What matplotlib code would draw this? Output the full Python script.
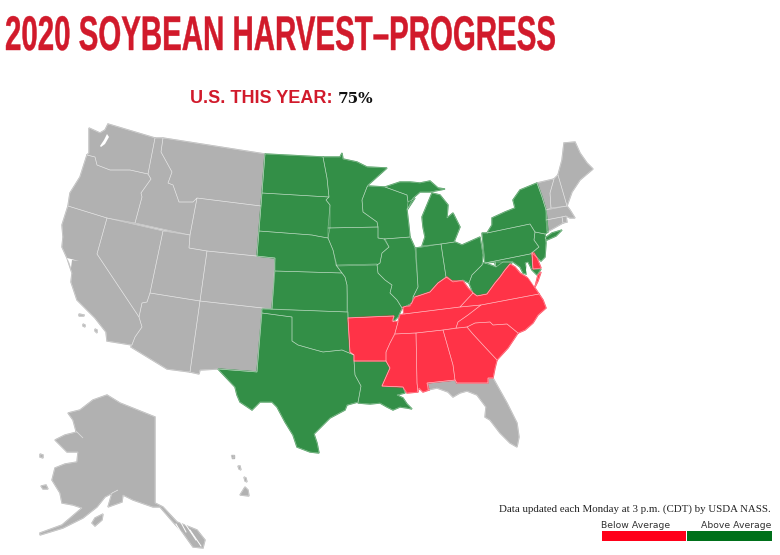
import matplotlib
matplotlib.use("Agg")
from matplotlib import pyplot as plt
from matplotlib.patheffects import AbstractPathEffect
from matplotlib.transforms import Affine2D

# State outlines (pixel grid of the 780x555 map)
WA = [(108,124),(155,138),(148,174),(130,170),(110,170),(97,165),(95,157),(87,155),(89,153),(89,128),(100,133),(105,130)]
OR = [(87,155),(95,157),(97,165),(110,170),(130,170),(148,174),(151,179),(141,193),(142,197),(135,223),(107,218),(68,206),(70,193),(80,177)]
CA = [(68,206),(107,218),(97,254),(139,317),(142,327),(135,337),(132,345),(107,341),(106,332),(95,318),(77,300),(71,282),(72,273),(67,258),(62,247),(63,237),(62,225)]
ID = [(155,138),(163,138),(161,152),(172,172),(168,183),(173,185),(179,202),(193,202),(197,198),(190,235),(135,223),(142,197),(141,193),(151,179),(148,174)]
NV = [(107,218),(163,231),(150,293),(147,302),(142,303),(139,317),(97,254)]
UT = [(163,231),(190,235),(189,248),(207,251),(200,301),(150,293)]
AZ = [(150,293),(200,301),(190,372),(167,369),(131,347),(135,337),(142,327),(139,317),(142,303),(147,302)]
MT = [(163,138),(265,154),(261,206),(197,198),(193,202),(179,202),(173,185),(168,183),(172,172),(161,152)]
WY = [(197,198),(261,206),(257,256),(207,251),(189,248),(190,235)]
CO = [(207,251),(275,258),(272,309),(200,301)]
NM = [(200,301),(262,308),(257,372),(218,369),(200,370),(199,374),(190,372)]
ND = [(265,154),(323,157),(327,178),(329,197),(262,193)]
SD = [(262,193),(329,197),(326,200),(330,205),(330,228),(328,238),(317,236),(312,235),(259,231)]
NE = [(259,231),(312,235),(317,236),(328,238),(333,250),(336,265),(342,273),(275,271),(275,258),(257,256)]
KS = [(275,271),(342,273),(345,277),(347,285),(347,312),(272,309)]
OK = [(262,309),(348,312),(348,318),(350,352),(354,355),(342,350),(323,352),(312,349),(298,345),(292,341),(292,317),(262,313)]
TX = [(262,313),(292,317),(292,341),(298,345),(312,349),(323,352),(342,350),(354,355),(354,361),(355,375),(361,386),(358,402),(347,405),(345,410),(330,418),(320,428),(314,434),(317,443),(319,453),(310,452),(297,447),(293,435),(285,422),(277,407),(272,402),(260,402),(252,410),(240,402),(237,395),(235,387),(218,369),(257,372)]
MN = [(323,157),(340,157),(342,153),(343,159),(357,162),(367,167),(387,168),(368,185),(367,187),(362,200),(363,212),(377,222),(378,227),(328,228),(330,205),(326,200),(329,197),(327,178)]
IA = [(328,228),(378,227),(378,238),(385,239),(389,247),(382,253),(380,263),(377,265),(337,266),(333,250),(328,238)]
MO = [(336,265),(377,264),(378,273),(385,280),(392,285),(390,293),(397,300),(402,308),(398,317),(393,322),(394,316),(348,318),(347,285),(345,277),(342,273)]
AR = [(348,318),(394,316),(392,321),(398,322),(395,333),(390,343),(386,352),(386,361),(354,361),(354,355),(350,352)]
LA = [(354,361),(386,361),(390,368),(382,386),(403,387),(405,393),(397,395),(403,398),(407,404),(412,409),(407,408),(400,407),(393,410),(387,407),(380,403),(370,404),(358,403),(361,386),(355,375)]
WI = [(368,186),(385,187),(407,195),(408,202),(415,198),(407,210),(409,227),(410,237),(384,239),(378,238),(378,227),(377,222),(363,212),(362,200),(367,187)]
IL = [(384,239),(410,237),(415,248),(418,287),(413,297),(412,303),(402,308),(397,300),(390,293),(392,285),(385,280),(378,273),(377,265),(380,263),(382,253),(389,247)]
IN = [(416,248),(441,244),(446,277),(438,283),(430,292),(415,297),(413,297),(418,287)]
MI_LOWER = [(422,217),(432,193),(440,195),(448,205),(447,218),(453,213),(460,227),(454,242),(441,244),(422,246),(425,237),(423,227)]
MI_UPPER = [(385,187),(400,182),(410,182),(420,183),(430,181),(438,188),(445,189),(430,192),(420,192),(413,198),(407,210),(408,202),(407,195)]
OH = [(441,244),(455,242),(462,245),(480,237),(483,255),(482,265),(472,275),(469,283),(463,280),(453,282),(446,277)]
KY = [(403,307),(410,306),(415,297),(430,292),(438,283),(447,277),(452,281),(463,281),(468,288),(473,293),(460,307),(404,314)]
TN = [(404,314),(460,307),(481,305),(468,315),(458,322),(456,328),(443,330),(416,333),(395,334),(395,333),(398,322),(400,315)]
MS = [(395,334),(416,333),(417,383),(418,392),(407,393),(403,387),(382,386),(390,368),(386,361),(386,352),(390,343)]
AL = [(416,333),(443,330),(453,365),(455,380),(427,383),(429,390),(423,392),(419,388),(418,392),(417,383)]
GA = [(443,330),(467,327),(472,333),(483,345),(497,360),(495,368),(493,378),(488,378),(488,383),(457,383),(455,380),(453,365)]
FL = [(427,383),(455,380),(457,383),(488,383),(488,378),(493,378),(498,387),(507,403),(517,423),(519,437),(517,447),(510,443),(500,433),(490,420),(485,417),(486,407),(477,395),(467,391),(460,393),(453,397),(448,392),(437,388),(428,390)]
SC = [(467,327),(475,323),(490,322),(493,325),(507,324),(518,333),(508,348),(497,360),(483,345),(472,333)]
NC = [(481,305),(539,294),(543,300),(546,308),(538,315),(533,323),(525,330),(518,333),(507,324),(493,325),(490,322),(475,323),(467,327),(456,328),(458,322),(468,315)]
VA = [(460,307),(473,293),(477,296),(487,294),(495,283),(500,277),(505,270),(510,264),(515,267),(520,273),(528,278),(533,285),(539,294),(481,305)]
VA_SHORE = [(538,275),(541,272),(538,281),(535,287)]
WV = [(469,283),(472,275),(482,265),(483,263),(485,263),(496,267),(495,262),(503,262),(513,262),(510,264),(505,270),(500,277),(495,283),(487,294),(477,296),(473,293)]
PA = [(482,233),(487,233),(530,224),(535,232),(534,240),(539,247),(530,254),(485,263)]
NY = [(487,233),(492,225),(492,218),(505,212),(515,208),(513,200),(520,190),(537,183),(542,197),(546,210),(548,232),(545,234),(535,232),(530,224)]
LONG_ISLAND = [(545,238),(552,233),(562,230),(556,236),(547,240)]
NJ = [(535,232),(545,234),(546,243),(545,257),(541,261),(532,253),(539,247),(534,240)]
DE = [(532,253),(534,253),(537,258),(541,268),(533,269)]
MD = [(485,263),(530,254),(532,254),(533,269),(541,269),(537,275),(532,270),(528,262),(525,263),(527,270),(529,275),(523,273),(520,267),(513,262),(503,262),(496,267),(495,262)]
VT = [(537,183),(554,179),(550,193),(551,208),(546,210),(542,197)]
NH = [(554,179),(558,175),(567,206),(551,208),(550,193)]
ME = [(558,175),(562,160),(564,143),(575,142),(580,153),(587,163),(593,169),(580,180),(572,192),(567,206)]
MA = [(546,210),(567,206),(570,210),(575,218),(570,218),(566,216),(546,220)]
CT = [(546,220),(562,217),(563,223),(547,232)]
RI = [(562,217),(566,216),(567,222),(563,223)]
AK = [(68,413),(80,410),(93,400),(107,395),(120,403),(140,411),(155,417),(155,503),(163,507),(177,522),(197,530),(205,540),(203,548),(193,547),(183,533),(173,522),(160,507),(153,507),(133,500),(123,495),(122,502),(108,507),(112,493),(118,490),(105,497),(97,507),(83,518),(63,528),(50,532),(40,535),(40,533),(62,525),(82,508),(73,505),(62,503),(60,493),(52,480),(55,468),(65,464),(77,462),(78,452),(67,452),(55,440),(65,435),(77,432),(83,438),(76,431),(73,420)]
KODIAK = [(92,523),(95,518),(103,514),(102,520),(95,526)]
NUNIVAK = [(41,486),(46,485),(48,489),(43,489)]
ST_LAWRENCE = [(40,454),(43,455),(43,458),(40,457)]
HI_BIG = [(240,495),(245,487),(248,490),(249,496)]
HI_MAUI = [(244,477),(246,478),(247,482),(245,481)]
HI_OAHU = [(238,466),(240,466),(241,470),(239,469)]
HI_KAUAI = [(231,455),(234,455),(234,458),(232,458)]
CHANNEL_IS = [(79,314),(84,315),(84,316),(79,316)]
CHANNEL_IS2 = [(83,324),(85,325),(85,327),(83,326)]
CHANNEL_IS3 = [(95,329),(97,330),(97,333),(95,331)]

# water cut out of the land shapes
PUGET = [(100,146),(104,140),(107,134),(109,137),(105,144),(101,147)]
SF_BAY = [(67,258),(79,261),(72,260),(71,268),(69,262)]
CHESAPEAKE = [(527,262),(530,268),(530,276),(534,281),(534,286),(530,280),(527,276),(526,270)]
SE_CUTS = [[(178,517),(186,532)],[(184,522),(196,540)],[(190,530),(201,546)],[(176,524),(184,538)]]

below_average = [AR, MS, AL, GA, SC, NC, TN, KY, VA, VA_SHORE, DE]
above_average = [ND, SD, NE, KS, OK, TX, MN, IA, MO, LA, WI, IL, IN, MI_LOWER, MI_UPPER, OH, WV, PA, NY, LONG_ISLAND, NJ, MD]
no_data = [WA, OR, CA, ID, NV, UT, AZ, MT, WY, CO, NM, FL, VT, NH, ME, MA, CT, RI, AK, KODIAK, NUNIVAK, ST_LAWRENCE,
           HI_BIG, HI_MAUI, HI_OAHU, HI_KAUAI, CHANNEL_IS, CHANNEL_IS2, CHANNEL_IS3]

RED = "#ff3347"
GREEN = "#338f47"
GRAY = "#b1b1b1"
TITLE_RED = "#d11a2b"
TITLE_WIDTH_PX = 551
TITLE_FONTSIZE = 29
TITLE_STRETCH_Y = 35 / TITLE_FONTSIZE

fig = plt.figure(figsize=(7.8, 5.55), dpi=100)
ax = fig.add_axes([0, 0, 1, 1])
ax.set_xlim(0, 780)
ax.set_ylim(555, 0)
ax.axis("off")


class CondenseText(AbstractPathEffect):
    # the heading font is a condensed one, none is installed so reshape the glyphs
    def __init__(self, a_scale_x, a_scale_y, a_origin, a_stroke):
        super().__init__()
        self.scale_x = a_scale_x
        self.scale_y = a_scale_y
        self.origin = a_origin
        self.stroke = a_stroke

    def draw_path(self, renderer, gc, tpath, affine, rgbFace=None):
        x0, y0 = self.origin
        reshape = Affine2D().translate(-x0, -y0).scale(self.scale_x, self.scale_y).translate(x0, y0)
        gc_stroke = renderer.new_gc()
        gc_stroke.copy_properties(gc)
        gc_stroke.set_linewidth(self.stroke)
        gc_stroke.set_foreground(rgbFace)
        renderer.draw_path(gc_stroke, tpath, affine + reshape, rgbFace)
        gc_stroke.restore()


def draw_states(a_states, a_color):
    for state in a_states:
        xs, ys = zip(*state)
        # same colour stroke first so neighbouring outlines leave no gap
        ax.fill(xs, ys, facecolor=a_color, edgecolor=a_color, linewidth=1.0, zorder=2)


def draw_borders(a_states):
    for state in a_states:
        xs, ys = zip(*state)
        ax.fill(xs, ys, facecolor="none", edgecolor="white", alpha=0.45, linewidth=0.45, zorder=3)


draw_states(no_data, GRAY)
draw_states(above_average, GREEN)
draw_states(below_average, RED)
draw_borders(no_data + above_average + below_average)

for water in [PUGET, SF_BAY, CHESAPEAKE]:
    xs, ys = zip(*water)
    ax.fill(xs, ys, facecolor="white", edgecolor="none", zorder=4)
for cut in SE_CUTS:
    xs, ys = zip(*cut)
    ax.plot(xs, ys, color="white", linewidth=0.7, zorder=4)

# Title block
title = ax.text(5, 50, "2020 SOYBEAN HARVEST\u2013PROGRESS", color=TITLE_RED, fontsize=TITLE_FONTSIZE,
                fontweight="bold", family="Liberation Sans", va="baseline", ha="left")
full_box = title.get_window_extent(fig.canvas.get_renderer())
title_origin = ax.transData.transform((5, 50))
title.set_path_effects([CondenseText(TITLE_WIDTH_PX / full_box.width, TITLE_STRETCH_Y, title_origin, 0.3)])

ax.text(190, 103, "U.S. THIS YEAR:", color=TITLE_RED, fontsize=13, fontweight="bold",
        family="Liberation Sans", va="baseline", ha="left")
ax.text(338, 103, "75%", color="#111111", fontsize=11, fontweight="bold",
        family="DejaVu Serif", va="baseline", ha="left")

# Legend
ax.text(771, 512, "Data updated each Monday at 3 p.m. (CDT) by USDA NASS.", color="#222222", fontsize=7.85,
        family="Liberation Serif", va="baseline", ha="right")
ax.text(601, 528, "Below Average", color="#333333", fontsize=6.7, family="DejaVu Sans", va="baseline", ha="left")
ax.text(771, 528, "Above Average", color="#333333", fontsize=6.7, family="DejaVu Sans", va="baseline", ha="right")
ax.barh(536, 84, left=602, height=10, color="#ff0019", linewidth=0)
ax.barh(536, 85, left=687, height=10, color="#00701a", linewidth=0)

fig.savefig("out.png", dpi=100)
